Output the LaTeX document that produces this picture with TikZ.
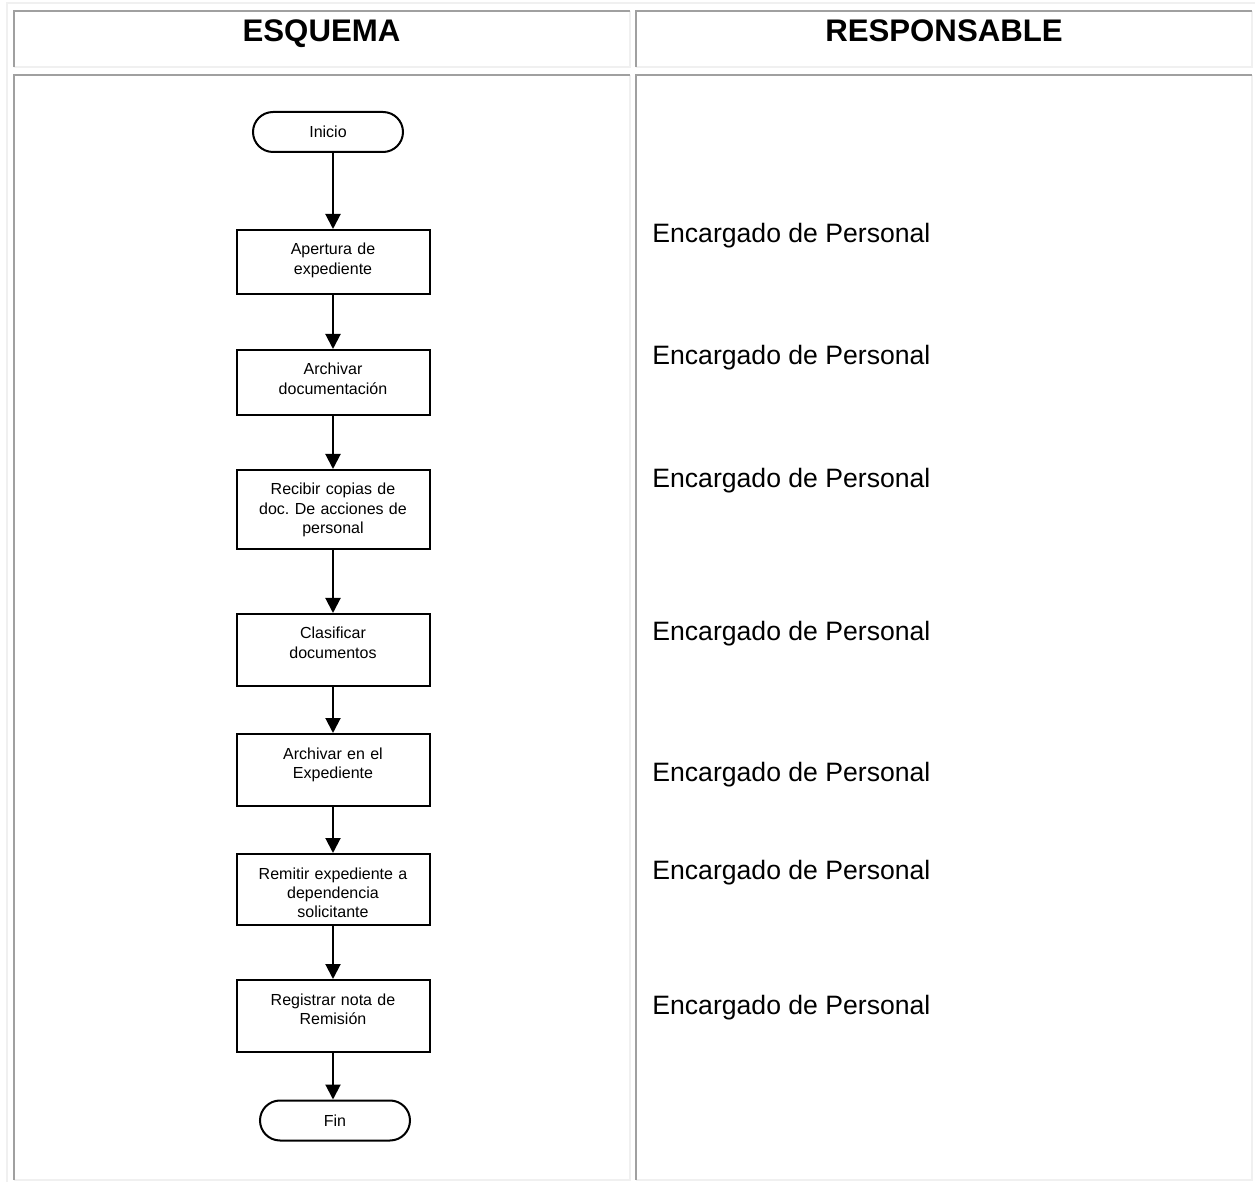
\documentclass[tikz,border=0pt]{standalone}
\usepackage{fontspec}
\setmainfont{Liberation Sans}
\usetikzlibrary{arrows.meta,shapes.misc}
\definecolor{bordeoscuro}{HTML}{A0A0A0}
\definecolor{bordeclaro}{HTML}{F0F0F0}
\frenchspacing
\tikzset{
    paso/.style={draw, line width=1pt, anchor=north, text width=86pt, minimum width=96.5pt,
        align=center, inner xsep=0pt, inner ysep=0pt, text height=12.5pt, text depth=#1,
        font=\fontsize{8}{9.6}\selectfont},
    terminal/.style={draw, line width=1pt, rounded rectangle, minimum width=75pt,
        minimum height=20pt, inner sep=0pt, font=\fontsize{8}{9.6}\selectfont},
    flecha/.style={line width=1pt, -{Triangle[length=7.5pt,width=7.5pt]}},
    titulo/.style={anchor=base, inner sep=0pt, font=\fontsize{15.6}{18}\selectfont\bfseries},
    resp/.style={anchor=base west, inner sep=0pt, font=\fontsize{13.3}{16}\selectfont}
}
\begin{document}
\begin{tikzpicture}[x=0.5pt, y=-0.5pt]
        \useasboundingbox (0,0) rectangle (1255,1182);
        % Tabla
        \draw[bordeclaro, line width=1pt] (6.5,1182) -- (6.5,3) -- (1255,3);
        \foreach \l/\t/\r/\u in {14/11/629.5/67.5, 636/11/1251.5/67.5, 14/75/629.5/1180, 636/75/1251.5/1180}
        {
            \draw[bordeclaro, line width=1pt] (\l,\u) -- (\r,\u) -- (\r,\t);
            \draw[bordeoscuro, line width=1pt] (\l,\u) -- (\l,\t) -- (\r,\t);
        }
        % Encabezados
        \node[titulo] (esquema) at (321.5,41.5) {ESQUEMA};
        \node[titulo] (responsable) at (944,41.5) {RESPONSABLE};
        % Diagrama
        \node[terminal] (ini) at (328,132) {Inicio};
        \node[paso=19.75pt] (b1) at (333,229) {Apertura de\\expediente};
        \node[paso=20pt]    (b2) at (333,349) {Archivar\\documentación};
        \node[paso=27pt]    (b3) at (333,469) {Recibir copias de\\doc. De acciones de\\personal};
        \node[paso=23.5pt]  (b4) at (333,613) {Clasificar\\documentos};
        \node[paso=23.5pt]  (b5) at (333,733) {Archivar en el\\Expediente};
        \node[paso=23pt]    (b6) at (333,853) {Remitir expediente a\\dependencia\\solicitante};
        \node[paso=23.5pt]  (b7) at (333,979) {Registrar nota de\\Remisión};
        \node[terminal] (fin) at (335,1120.5) {Fin};
        % Flechas
        \draw[flecha] (ini.south -| b1.north) -- (b1.north);
        \foreach \desde/\hasta in {b1/b2, b2/b3, b3/b4, b4/b5, b5/b6, b6/b7}
        {
            \draw[flecha] (\desde.south) -- (\hasta.north);
        }
        \draw[flecha] (b7.south) -- (b7.south |- fin.north);
        % Responsables
        \foreach \y [count=\i] in {242.5, 364.5, 487.5, 640.5, 781.5, 879.5, 1014.5}
        {
            \node[resp] (r\i) at (652,\y) {Encargado de Personal};
        }
\end{tikzpicture}
\end{document}
